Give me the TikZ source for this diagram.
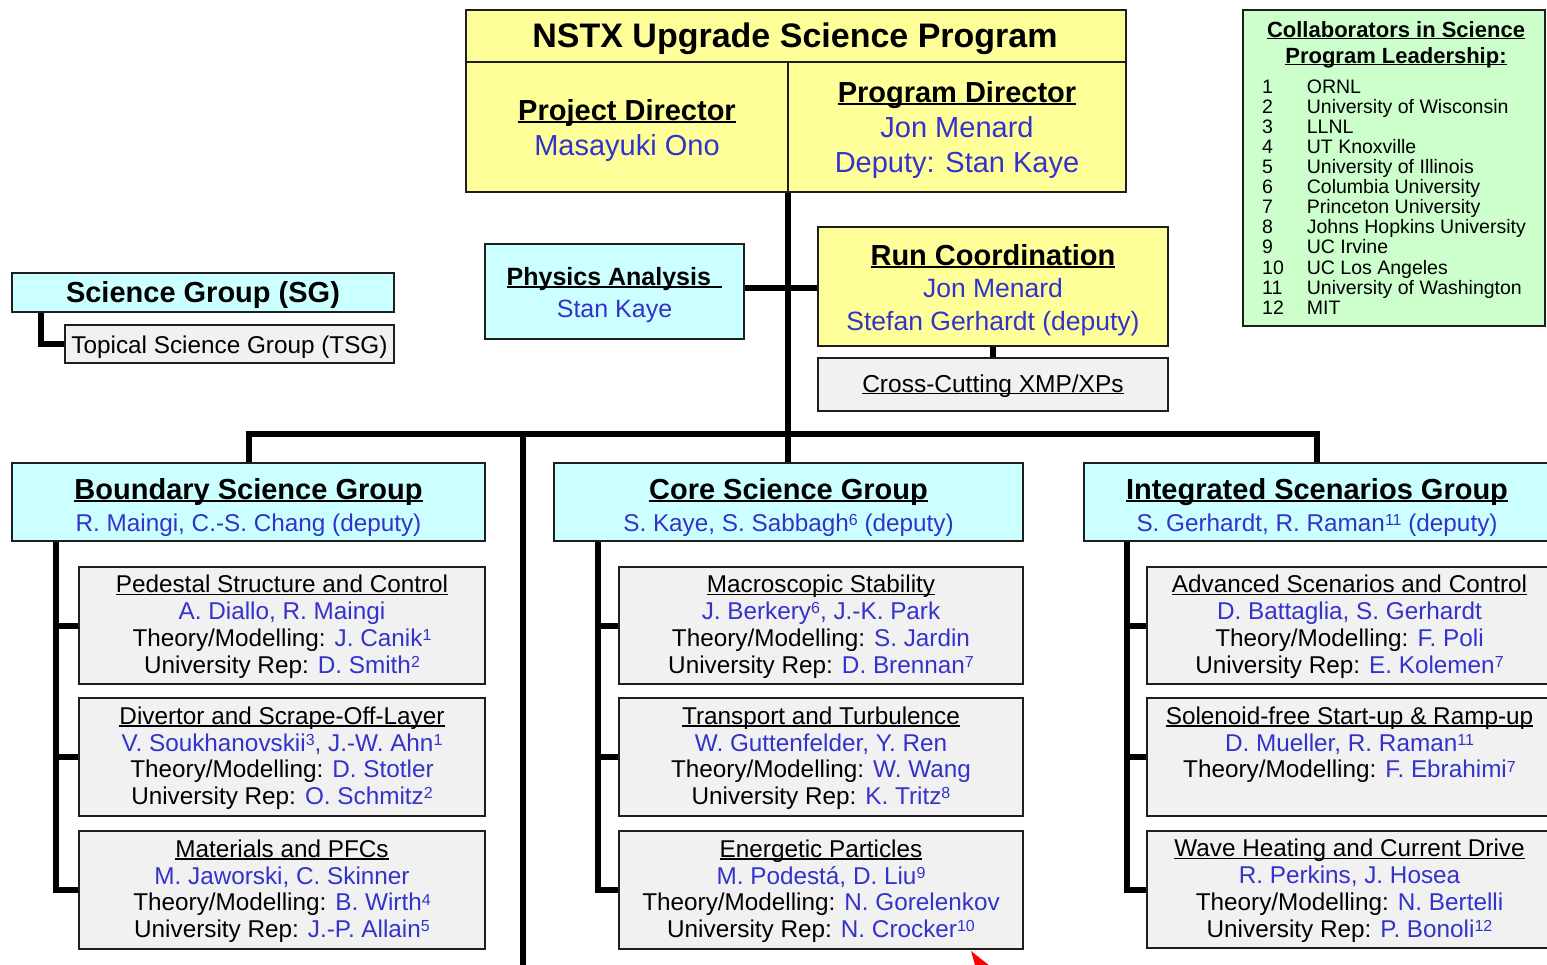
\documentclass[tikz,border=0pt]{standalone}
\usepackage{fontspec}
\setmainfont{Liberation Sans}
\usetikzlibrary{backgrounds}

\definecolor{boxyellow}{RGB}{255,255,153}
\definecolor{boxcyan}{RGB}{204,255,255}
\definecolor{boxgreen}{RGB}{204,255,204}
\definecolor{boxgray}{RGB}{241,241,241}
\definecolor{nameblue}{RGB}{51,51,204}
\definecolor{edge}{RGB}{30,30,30}

\newcommand\fs[2]{\fontsize{#1}{#2}\selectfont}
% underline set just below the baseline, crossing the descenders
\newcommand\uln[1]{\setbox0\hbox{#1}\leavevmode\rlap{\rule[-0.1em]{\wd0}{0.065em}}\box0}
\newcommand\nm[1]{\textcolor{nameblue}{#1}}
% small raised affiliation number, top level with the capitals
\newcommand\sps[1]{\raisebox{5.8pt}{\fontsize{16}{16}\selectfont #1}}

\tikzset{
  boxframe/.style={draw=edge, line width=2pt, inner sep=0pt, outer sep=0pt, anchor=north west},
  yelbox/.style={boxframe, fill=boxyellow},
  cyanbox/.style={boxframe, fill=boxcyan},
  graybox/.style={boxframe, fill=boxgray},
  greenbox/.style={boxframe, fill=boxgreen},
  link/.style={draw=black, line width=6pt, line cap=rect, line join=miter},
  txt/.style={inner sep=0pt, anchor=base},
  head/.style={txt, font=\fs{29}{35}\bfseries},
  bigname/.style={txt, font=\fs{29}{35}, text=nameblue},
  grphead/.style={txt, font=\fs{29}{35}\bfseries},
  grpname/.style={txt, font=\fs{24.3}{27}, text=nameblue},
  topictext/.style={inner sep=0pt, align=center, font=\fs{24.3}{26.7}},
}

% topic box: name, left, top, width, height, text lines
\newcommand\topic[6]{%
  \node[graybox, minimum width=#4, minimum height=#5] (#1) at (#2,#3) {};
  \node[topictext] (#1-t) at ([yshift=-1.2pt]#1.center) {#6};}

\begin{document}
\begin{tikzpicture}[x=1pt, y=-1pt]
\useasboundingbox (0,0) rectangle (1547,964);
\clip (0,0) rectangle (1547,964);

% ---- programme leadership ----
\node[yelbox, minimum width=660, minimum height=52] (ttl) at (466,10) {};
\node[yelbox, minimum width=322, minimum height=130] (prj) at (466,62) {};
\node[yelbox, minimum width=338, minimum height=130] (prg) at (788,62) {};
\node[txt, font=\fs{34}{40}\bfseries] (ttl-t) at (795,47) {NSTX Upgrade Science Program};
\node[head] (prj-h) at (627,120) {\uln{Project Director}};
\node[bigname] (prj-n) at (627,155) {Masayuki Ono};
\node[head] (prg-h) at (957,102) {\uln{Program Director}};
\node[bigname] (prg-n1) at (957,137) {Jon Menard};
\node[bigname] (prg-n2) at (957,172) {Deputy: Stan Kaye};

% ---- physics analysis / run coordination ----
\node[cyanbox, minimum width=259, minimum height=95] (pa) at (485,244) {};
\node[txt, font=\fs{25}{32}\bfseries] (pa-h) at (614.5,285) {\uln{Physics Analysis\hspace{0.45em}}};
\node[txt, font=\fs{25}{32}, text=nameblue] (pa-n) at (614.5,317) {Stan Kaye};

\node[yelbox, minimum width=350, minimum height=119] (rc) at (818,227) {};
\node[head] (rc-h) at (993,265) {\uln{Run Coordination}};
\node[txt, font=\fs{26.5}{33}, text=nameblue] (rc-n1) at (993,297) {Jon Menard};
\node[txt, font=\fs{26.5}{33}, text=nameblue] (rc-n2) at (993,330) {Stefan Gerhardt (deputy)};

\node[graybox, minimum width=350, minimum height=53] (xc) at (818,358) {};
\node[txt, font=\fs{24.5}{30}] (xc-t) at (993,392) {\uln{Cross-Cutting XMP/XPs}};

% ---- legend ----
\node[cyanbox, minimum width=382, minimum height=39] (sg) at (12,273) {};
\node[head] (sg-t) at (203,302) {Science Group (SG)};
\node[graybox, minimum width=329, minimum height=38] (tsg) at (65,325) {};
\node[txt, font=\fs{24.3}{30}] (tsg-t) at (229.5,353) {Topical Science Group (TSG)};

% ---- collaborating institutions ----
\node[greenbox, minimum width=302, minimum height=316] (col) at (1243,10) {};
\node[txt, font=\fs{22}{26}\bfseries] (col-h1) at (1396,37) {\uln{Collaborators in Science}};
\node[txt, font=\fs{22}{26}\bfseries] (col-h2) at (1396,63) {\uln{Program Leadership:}};
\node[inner sep=0pt, anchor=base west, font=\fs{19.5}{20}] (col-l) at (1262,93) {%
  \begin{tabular}[t]{@{}l@{\hspace{23pt}}l@{}}
  1 & ORNL\\
  2 & University of Wisconsin\\
  3 & LLNL\\
  4 & UT Knoxville\\
  5 & University of Illinois\\
  6 & Columbia University\\
  7 & Princeton University\\
  8 & Johns Hopkins University\\
  9 & UC Irvine\\
  10 & UC Los Angeles\\
  11 & University of Washington\\
  12 & MIT
  \end{tabular}};

% ---- science groups ----
\node[cyanbox, minimum width=473, minimum height=78] (bsg) at (12,463) {};
\node[grphead] (bsg-h) at (248.5,499) {\uln{Boundary Science Group}};
\node[grpname] (bsg-n) at (248.5,531) {R. Maingi, C.-S. Chang (deputy)};

\node[cyanbox, minimum width=469, minimum height=78] (csg) at (554,463) {};
\node[grphead] (csg-h) at (788.5,499) {\uln{Core Science Group}};
\node[grpname] (csg-n) at (788.5,531) {S. Kaye, S. Sabbagh\sps{6} (deputy)};

\node[cyanbox, minimum width=466, minimum height=78] (isg) at (1084,463) {};
\node[grphead] (isg-h) at (1317,499) {\uln{Integrated Scenarios Group}};
\node[grpname] (isg-n) at (1317,531) {S. Gerhardt, R. Raman\sps{11} (deputy)};

% ---- topical science groups ----
\topic{bs1}{79}{567}{406}{117}{\uln{Pedestal Structure and Control}\\\nm{A. Diallo, R. Maingi}\\Theory/Modelling: \nm{J. Canik\sps{1}}\\University Rep: \nm{D. Smith\sps{2}}}
\topic{bs2}{79}{698}{406}{118}{\uln{Divertor and Scrape-Off-Layer}\\\nm{V. Soukhanovskii\sps{3}, J.-W. Ahn\sps{1}}\\Theory/Modelling: \nm{D. Stotler}\\University Rep: \nm{O. Schmitz\sps{2}}}
\topic{bs3}{79}{831}{406}{118}{\uln{Materials and PFCs}\\\nm{M. Jaworski, C. Skinner}\\Theory/Modelling: \nm{B. Wirth\sps{4}}\\University Rep: \nm{J.-P. Allain\sps{5}}}

\topic{cs1}{619}{567}{404}{117}{\uln{Macroscopic Stability}\\\nm{J. Berkery\sps{6}, J.-K. Park}\\Theory/Modelling: \nm{S. Jardin}\\University Rep: \nm{D. Brennan\sps{7}}}
\topic{cs2}{619}{698}{404}{118}{\uln{Transport and Turbulence}\\\nm{W. Guttenfelder, Y. Ren}\\Theory/Modelling: \nm{W. Wang}\\University Rep: \nm{K. Tritz\sps{8}}}
\topic{cs3}{619}{831}{404}{118}{\uln{Energetic Particles}\\\nm{M. Podestá, D. Liu\sps{9}}\\Theory/Modelling: \nm{N. Gorelenkov}\\University Rep: \nm{N. Crocker\sps{10}}}

\topic{is1}{1147}{567}{405}{117}{\uln{Advanced Scenarios and Control}\\\nm{D. Battaglia, S. Gerhardt}\\Theory/Modelling: \nm{F. Poli}\\University Rep: \nm{E. Kolemen\sps{7}}}
\topic{is2}{1147}{698}{405}{118}{\uln{Solenoid-free Start-up \& Ramp-up}\\\nm{D. Mueller, R. Raman\sps{11}}\\Theory/Modelling: \nm{F. Ebrahimi\sps{7}}\\\vphantom{Ry}}
\topic{is3}{1147}{831}{405}{117}{\uln{Wave Heating and Current Drive}\\\nm{R. Perkins, J. Hosea}\\Theory/Modelling: \nm{N. Bertelli}\\University Rep: \nm{P. Bonoli\sps{12}}}

% red pointer tip at the lower edge
\fill[red] (971,951) -- (977,972) -- (990,966) -- cycle;

% ---- connectors ----
\begin{pgfonlayer}{background}
\fill[white] (0,0) rectangle (1547,964);
\coordinate (bus) at (788,434);
\coordinate (paj) at (788,288);
\coordinate (low) at (523,975);
\coordinate (sgc) at (41,0);
\coordinate (bcol) at (56,0);
\coordinate (ccol) at (598,0);
\coordinate (icol) at (1127,0);
\draw[link] (prj.south east) -- (prj.south east |- csg.north);
\draw[link] (paj -| pa.east) -- (paj -| rc.west);
\draw[link] (rc.south) -- (xc.north);
\draw[link] (bsg.north) -- (bsg.north |- bus) -- (isg.north |- bus) -- (isg.north);
\draw[link] (bus -| low) -- (low);
\draw[link] (sgc |- sg.south) |- (tsg.west);
\draw[link] (bcol |- bsg.south) |- (bs3.west);
\draw[link] (bcol |- bs1.west) -- (bs1.west);
\draw[link] (bcol |- bs2.west) -- (bs2.west);
\draw[link] (ccol |- csg.south) |- (cs3.west);
\draw[link] (ccol |- cs1.west) -- (cs1.west);
\draw[link] (ccol |- cs2.west) -- (cs2.west);
\draw[link] (icol |- isg.south) |- (is3.west);
\draw[link] (icol |- is1.west) -- (is1.west);
\draw[link] (icol |- is2.west) -- (is2.west);
\end{pgfonlayer}
\end{tikzpicture}
\end{document}
